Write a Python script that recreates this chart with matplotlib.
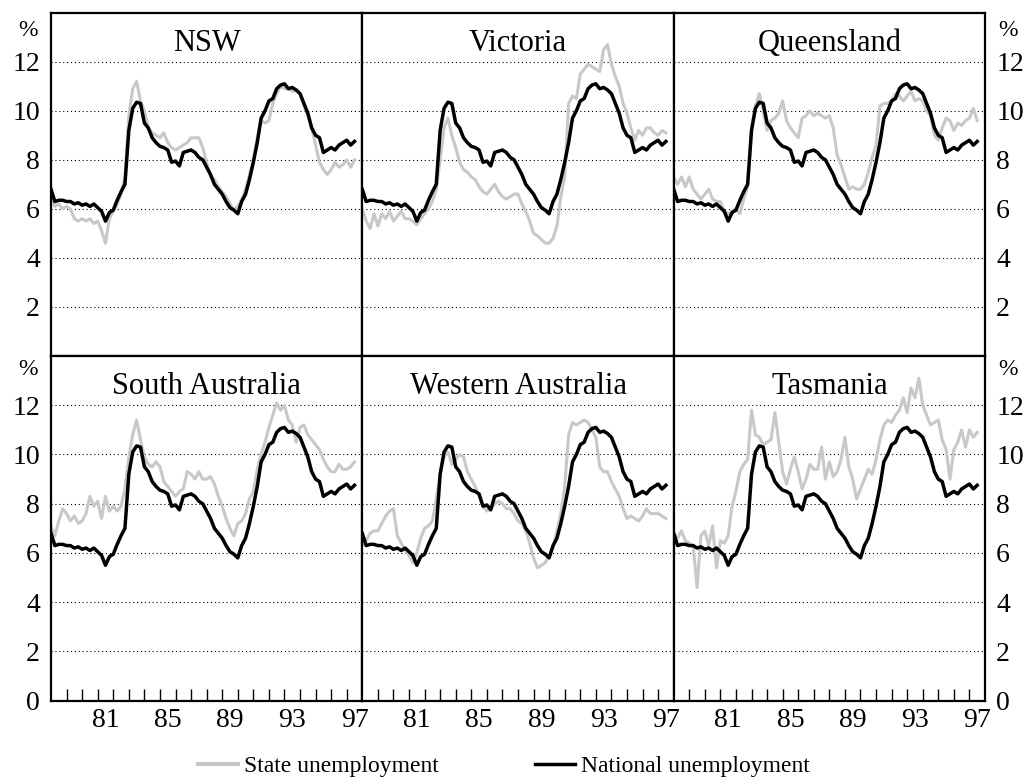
import numpy as np
import matplotlib
matplotlib.use("Agg")
import matplotlib.pyplot as plt
from matplotlib.lines import Line2D

plt.rcParams["font.family"] = ["Liberation Serif", "DejaVu Serif"]

# quarterly observations, 1978 Q1 .. mid 1997
years = 1978 + np.arange(79) / 4

national = [
    6.8, 6.3, 6.35, 6.35,  6.3, 6.3, 6.2, 6.25,  6.15, 6.2, 6.1, 6.2,
    6.05, 5.9, 5.5, 5.85,  5.95, 6.35, 6.7, 7.0,  9.2, 10.1, 10.35, 10.3,
    9.5, 9.3, 8.9, 8.7,  8.55, 8.5, 8.4, 7.9,  7.95, 7.75, 8.3, 8.35,
    8.4, 8.3, 8.1, 8.0,  7.7, 7.4, 7.0, 6.8,  6.6, 6.3, 6.05, 5.95,
    5.8, 6.3, 6.6, 7.2,  7.9, 8.7, 9.7, 10.0,  10.4, 10.5, 10.9, 11.05,
    11.1, 10.9, 10.95, 10.85,  10.7, 10.3, 9.9, 9.3,  9.0, 8.9, 8.3, 8.4,
    8.5, 8.4, 8.6, 8.7,  8.8, 8.6, 8.75,
]

nsw = [
    6.4, 6.1, 6.2, 6.0,  6.1, 6.0, 5.6, 5.5,  5.6, 5.5, 5.6, 5.4,
    5.5, 5.1, 4.6, 5.6,  5.9, 6.2, 6.6, 7.3,  9.8, 10.9, 11.2, 10.4,
    10.0, 9.3, 9.1, 9.0,  8.9, 9.1, 8.7, 8.5,  8.4, 8.5, 8.6, 8.7,
    8.9, 8.9, 8.9, 8.5,  7.9, 7.3, 7.2, 6.9,  6.7, 6.5, 6.2, 5.95,
    6.1, 6.4, 6.8, 7.4,  8.0, 8.9, 9.6, 9.5,  9.6, 10.3, 10.7, 11.0,
    10.9, 10.9, 10.8, 10.8,  10.7, 10.2, 9.8, 9.3,  8.6, 7.9, 7.6, 7.4,
    7.6, 7.9, 7.7, 7.8,  8.0, 7.7, 8.0,
]

victoria = [
    6.0, 5.5, 5.2, 5.8,  5.3, 5.8, 5.6, 5.9,  5.5, 5.7, 5.9, 5.6,
    5.6, 5.5, 5.35, 5.6,  5.8, 6.0, 6.3, 6.8,  8.0, 9.3, 9.7, 9.0,
    8.5, 7.9, 7.6, 7.5,  7.3, 7.2, 6.9, 6.7,  6.6, 6.8, 7.0, 6.7,
    6.5, 6.4, 6.5, 6.6,  6.6, 6.2, 5.9, 5.5,  5.0, 4.9, 4.75, 4.6,
    4.6, 4.8, 5.3, 6.5,  7.3, 10.3, 10.6, 10.5,  11.5, 11.7, 11.9, 11.8,
    11.7, 11.6, 12.5, 12.7,  11.9, 11.4, 11.0, 10.3,  9.9, 9.3, 8.8, 9.2,
    9.0, 9.3, 9.3, 9.1,  9.0, 9.2, 9.1,
]

queensland = [
    7.3, 7.0, 7.3, 6.9,  7.3, 6.8, 6.6, 6.4,  6.6, 6.8, 6.4, 6.3,
    6.3, 5.9, 5.8, 5.9,  6.0, 5.8, 6.4, 6.9,  9.3, 10.2, 10.7, 10.0,
    9.2, 9.6, 9.7, 9.9,  10.4, 9.6, 9.3, 9.1,  8.9, 9.7, 9.8, 10.0,
    9.8, 9.9, 9.8, 9.7,  9.8, 9.3, 8.2, 7.8,  7.3, 6.8, 6.9, 6.8,
    6.8, 7.0, 7.5, 8.1,  8.6, 10.2, 10.3, 10.3,  10.4, 10.7, 10.6, 10.4,
    10.6, 10.8, 10.4, 10.5,  10.4, 10.0, 9.8, 9.0,  8.8, 9.3, 9.7, 9.6,
    9.2, 9.5, 9.4, 9.6,  9.7, 10.1, 9.6,
]

south_australia = [
    7.1, 6.7, 7.3, 7.8,  7.6, 7.3, 7.5, 7.2,  7.3, 7.6, 8.3, 7.9,
    8.1, 7.4, 8.3, 7.7,  7.9, 7.7, 7.9, 8.6,  9.9, 10.8, 11.4, 10.6,
    9.9, 9.6, 9.5, 9.7,  9.5, 8.9, 8.7, 8.5,  8.3, 8.5, 8.6, 9.3,
    9.2, 9.0, 9.3, 9.0,  9.0, 9.1, 8.8, 8.3,  7.9, 7.4, 7.0, 6.7,
    7.2, 7.3, 7.6, 8.2,  8.5, 9.4, 10.0, 10.5,  11.1, 11.6, 12.1, 11.8,
    12.0, 11.4, 11.2, 10.5,  11.1, 11.2, 10.8, 10.6,  10.4, 10.2, 9.8, 9.5,
    9.3, 9.3, 9.6, 9.4,  9.4, 9.5, 9.7,
]

western_australia = [
    6.3, 6.5, 6.8, 6.9,  6.9, 7.2, 7.5, 7.7,  7.8, 6.7, 6.4, 6.1,
    5.9, 5.6, 6.0, 6.6,  7.0, 7.1, 7.3, 8.2,  9.2, 9.9, 10.1, 9.6,
    9.8, 10.0, 9.9, 9.3,  9.0, 8.7, 8.3, 7.9,  7.7, 7.8, 8.0, 8.1,
    8.0, 7.8, 7.8, 7.6,  7.3, 7.2, 6.9, 6.4,  5.8, 5.4, 5.5, 5.6,
    5.9, 6.2, 6.9, 7.6,  8.7, 10.8, 11.3, 11.2,  11.3, 11.4, 11.3, 11.0,
    10.7, 9.5, 9.3, 9.3,  8.9, 8.6, 8.3, 7.8,  7.4, 7.5, 7.4, 7.3,
    7.5, 7.8, 7.6, 7.6,  7.6, 7.5, 7.4,
]

tasmania = [
    6.8, 6.6, 6.9, 6.5,  6.4, 6.3, 4.6, 6.7,  6.9, 6.3, 7.1, 5.4,
    6.5, 6.4, 6.7, 7.9,  8.5, 9.3, 9.6, 9.8,  11.8, 10.8, 10.7, 10.4,
    10.5, 10.6, 11.7, 10.5,  9.3, 8.8, 9.4, 9.9,  9.3, 8.6, 9.0, 9.6,
    9.4, 9.4, 10.3, 9.0,  9.7, 9.1, 9.3, 9.8,  10.7, 9.5, 9.0, 8.2,
    8.6, 9.0, 9.4, 9.2,  9.8, 10.6, 11.2, 11.4,  11.3, 11.6, 11.8, 12.3,
    11.7, 12.7, 12.3, 13.1,  12.0, 11.6, 11.2, 11.3,  11.4, 10.6, 10.2, 9.0,
    10.2, 10.5, 11.0, 10.3,  11.0, 10.7, 10.9,
]

states = ["NSW", "Victoria", "Queensland",
          "South Australia", "Western Australia", "Tasmania"]
state_series = [nsw, victoria, queensland,
                south_australia, western_australia, tasmania]

year_labels = ["81", "85", "89", "93", "97"]
label_pos = [1981.5, 1985.5, 1989.5, 1993.5, 1997.5]

GREY = "#c8c8c8"
W, H = 1034, 778
fig = plt.figure(figsize=(W / 100, H / 100), dpi=100)

col_edges = [51, 362.3, 673.7, 985]
row_edges = [(12.7, 356), (356, 700.7)]

for i, (name, series) in enumerate(zip(states, state_series)):
    r, c = divmod(i, 3)
    x0, x1 = col_edges[c], col_edges[c + 1]
    y0, y1 = row_edges[r]
    ax = fig.add_axes([x0 / W, 1 - y1 / H, (x1 - x0) / W, (y1 - y0) / H])

    ax.plot(years, series, color=GREY, lw=2.2, zorder=2)
    ax.plot(years, national, color="black", lw=2.5, zorder=3)

    ax.set_xlim(1978, 1998)
    ax.set_ylim(0, 14)
    yt = list(range(2, 13, 2)) if r == 0 else list(range(0, 13, 2))
    ax.set_yticks(yt)
    ax.grid(axis="y", color="black", lw=0.8, linestyle=(0, (1, 2.5)))
    ax.set_axisbelow(True)
    for s in ax.spines.values():
        s.set_linewidth(1.6)

    ax.tick_params(axis="y", length=0, labelsize=20,
                   labelleft=(c == 0), labelright=(c == 2), pad=8)

    if r == 1:
        ax.set_xticks(label_pos)
        ax.set_xticklabels(year_labels)
        ax.set_xticks(np.arange(1979, 1998), minor=True)
        ax.tick_params(axis="x", which="major", length=0, labelsize=20, pad=5)
        ax.tick_params(axis="x", which="minor", direction="in",
                       length=8.6, width=1.0)
    else:
        ax.set_xticks([])

    ax.text(0.5, 0.889, name, transform=ax.transAxes,
            ha="center", va="baseline", fontsize=22)

# "%" unit labels
for (px, py) in [(28, 36), (1008, 36), (28, 375), (1008, 375)]:
    fig.text(px / W, 1 - py / H, "%", ha="center", va="baseline", fontsize=17)

handles = [Line2D([], [], color=GREY, lw=3),
           Line2D([], [], color="black", lw=2.5)]
fig.legend(handles, ["State unemployment", "National unemployment"],
           loc="center", bbox_to_anchor=(0.4874, 1 - 766 / H), ncol=2,
           frameon=False, fontsize=17, handlelength=1.67,
           handletextpad=0.26, columnspacing=4.1, borderpad=0)

fig.savefig("out.png", dpi=100)
